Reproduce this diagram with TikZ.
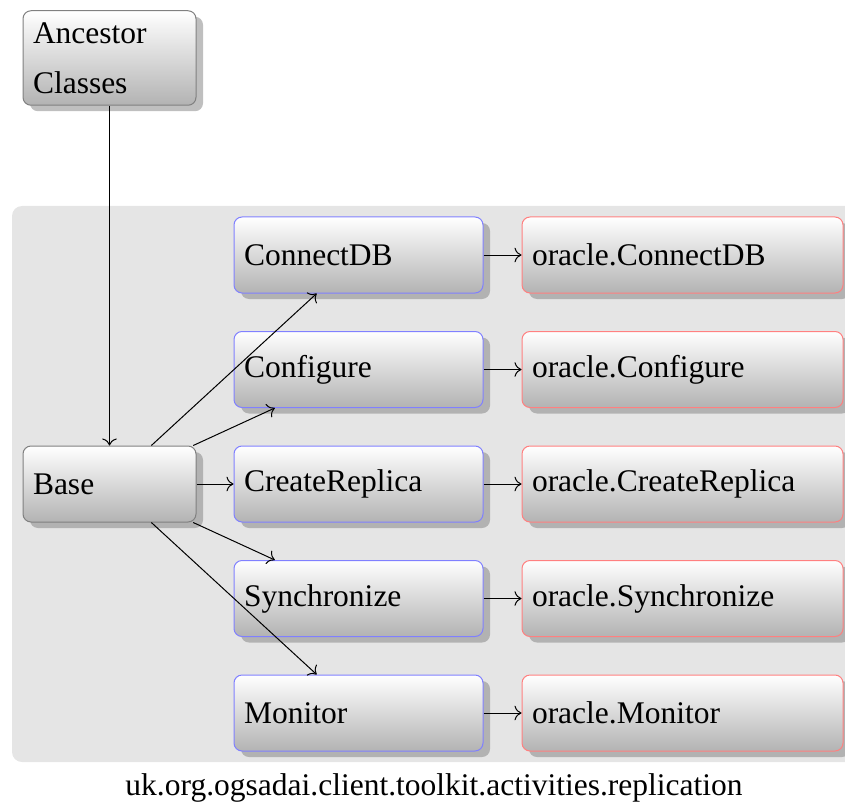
\documentclass[tikz,border=0pt]{standalone}
\usepackage{fontspec}
\setmainfont{Liberation Serif}
\usetikzlibrary{shadows,arrows.meta}
\begin{document}
\begin{tikzpicture}[x=0.5pt,y=-0.5pt,
  box/.style={rectangle, rounded corners=4pt, top color=white, bottom color=black!30,
    draw=black!50, line width=0.5pt,
    drop shadow={shadow xshift=3.5pt, shadow yshift=-3pt},
    align=left, inner xsep=5pt, inner ysep=0pt,
    font=\fontsize{15.75}{19}\selectfont, minimum height=38pt},
  graybox/.style={box, text width=76.5pt},
  bluebox/.style={box, draw=blue!50, text width=114.5pt},
  redbox/.style={box, draw=red!50, text width=150.5pt},
  conn/.style={-{To[scale=1.3]}, line width=0.5pt}]
\useasboundingbox (0,0) rectangle (845,802);
\clip (0,0) rectangle (845,802);
\fill[black!10, rounded corners=5pt] (12,206) rectangle (880,762);

\node[graybox, minimum height=47.25pt, font=\fontsize{15.75}{25}\selectfont] (anc) at (109.5,58) {Ancestor\\Classes};
\node[graybox] (base) at (109.5,484) {Base};

\node[bluebox] (b1) at (358.5,255) {ConnectDB};
\node[bluebox] (b2) at (358.5,369.5) {Configure};
\node[bluebox] (b3) at (358.5,484) {CreateReplica};
\node[bluebox] (b4) at (358.5,598.5) {Synchronize};
\node[bluebox] (b5) at (358.5,713) {Monitor};

\node[redbox] (r1) at (682.5,255) {oracle.ConnectDB};
\node[redbox] (r2) at (682.5,369.5) {oracle.Configure};
\node[redbox] (r3) at (682.5,484) {oracle.CreateReplica};
\node[redbox] (r4) at (682.5,598.5) {oracle.Synchronize};
\node[redbox] (r5) at (682.5,713) {oracle.Monitor};

\draw[conn] (anc) -- (base);
\foreach \i in {1,...,5} {
  \draw[conn] (base) -- (b\i);
  \draw[conn] (b\i) -- (r\i);
}

\node[anchor=base, font=\fontsize{15.75}{19}\selectfont, inner sep=0pt] (cap) at (434,795) {uk.org.ogsadai.client.toolkit.activities.replication};
\end{tikzpicture}
\end{document}
